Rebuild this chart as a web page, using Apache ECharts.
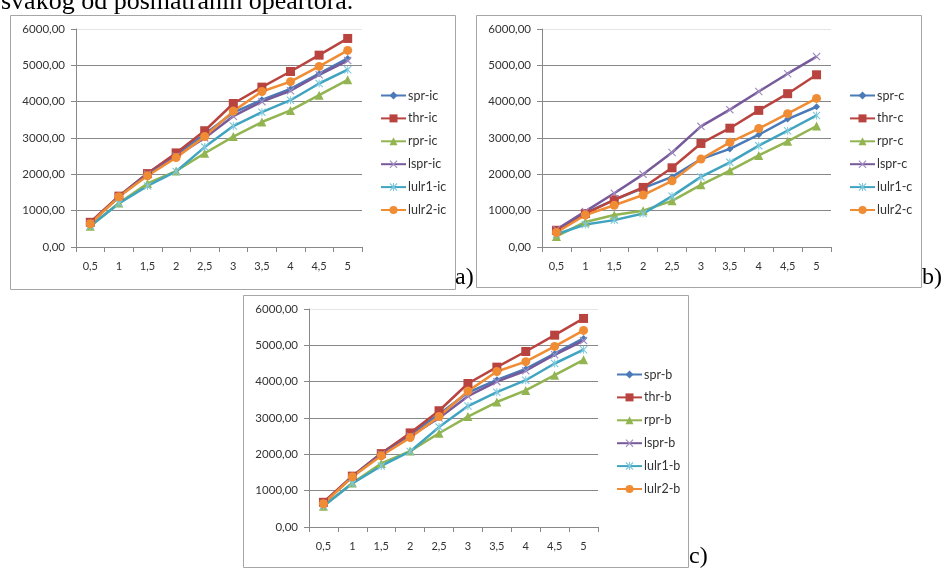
<!DOCTYPE html>
<html><head><meta charset="utf-8">
<script src="https://cdn.jsdelivr.net/npm/echarts@6/dist/echarts.min.js"></script>
<style>html,body{margin:0;padding:0;background:#fff}#c{width:943px;height:570px}</style>
</head><body><div id="c"></div>
<script>
const categories = ['0,5','1','1,5','2','2,5','3','3,5','4','4,5','5'];
const yTicks = [0,1000,2000,3000,4000,5000,6000];
const seriesBase = ['spr','thr','rpr','lspr','lulr1','lulr2'];

// chart a) (-ic) and chart c) (-b) show the same values
const spr_ic   = [660,1400,2030,2560,3100,3700,4050,4350,4770,5190];
const thr_ic   = [680,1400,2020,2590,3200,3950,4400,4830,5280,5740];
const rpr_ic   = [570,1210,1750,2090,2580,3040,3440,3760,4180,4600];
const lspr_ic  = [650,1380,2000,2500,3000,3600,4000,4300,4740,5130];
const lulr1_ic = [580,1200,1680,2080,2750,3330,3710,4040,4500,4880];
const lulr2_ic = [640,1380,1960,2460,3040,3740,4280,4550,4970,5410];

const spr_c   = [440,940,1300,1620,1930,2420,2700,3090,3520,3860];
const thr_c   = [460,920,1300,1640,2180,2850,3270,3760,4220,4740];
const rpr_c   = [290,690,880,1000,1270,1710,2100,2520,2910,3330];
const lspr_c  = [480,980,1480,2000,2600,3320,3780,4280,4770,5240];
const lulr1_c = [350,620,740,920,1400,1930,2330,2790,3200,3620];
const lulr2_c = [400,880,1150,1430,1820,2420,2880,3260,3670,4090];

const spr_b   = spr_ic.slice();
const thr_b   = thr_ic.slice();
const rpr_b   = rpr_ic.slice();
const lspr_b  = lspr_ic.slice();
const lulr1_b = lulr1_ic.slice();
const lulr2_b = lulr2_ic.slice();

const colors = ['#4a7ab8','#b9443f','#92b451','#775a9b','#40a4c0','#ef8c34'];
const markColors = ['#4a7ab8','#b9443f','#92b451','#a08cc0','#7cc8dc','#ef8c34'];
const X_PATH = 'path://M0,1 L1,0 L5,4 L9,0 L10,1 L6,5 L10,9 L9,10 L5,6 L1,10 L0,9 L4,5 Z';
const AST_PATH = 'path://M0,1 L1,0 L5,4 L9,0 L10,1 L6,5 L10,9 L9,10 L5,6 L1,10 L0,9 L4,5 Z M4.4,0 L5.6,0 L5.6,10 L4.4,10 Z';
const symbols = ['diamond','rect','triangle',X_PATH,AST_PATH,'circle'];
const symSizes = [7,9,9,8,8,9];

const font = 'Lato, "Open Sans", sans-serif';
const grids = [
  {left:76, top:29, width:286, height:218},
  {left:542, top:29, width:289, height:218},
  {left:309, top:309, width:289, height:218}
];
const datasets = [
  {suffix:'-ic', data:[spr_ic,thr_ic,rpr_ic,lspr_ic,lulr1_ic,lulr2_ic], legend:{left:380, top:89}},
  {suffix:'-c',  data:[spr_c,thr_c,rpr_c,lspr_c,lulr1_c,lulr2_c], legend:{left:849, top:89}},
  {suffix:'-b',  data:[spr_b,thr_b,rpr_b,lspr_b,lulr1_b,lulr2_b], legend:{left:616, top:368}}
];

const xAxes = [], yAxes = [], series = [], legends = [];
datasets.forEach((d, gi) => {
  xAxes.push({
    type:'category', gridIndex:gi, data:categories, boundaryGap:true,
    axisLine:{lineStyle:{color:'#888', width:1}},
    axisTick:{show:true, alignWithLabel:false, length:5, lineStyle:{color:'#888'}},
    axisLabel:{color:'#333', fontFamily:font, fontSize:11, margin:14}
  });
  yAxes.push({
    type:'value', gridIndex:gi, min:0, max:6000, interval:1000,
    axisLine:{show:true, lineStyle:{color:'#888'}},
    axisTick:{show:true, length:5, lineStyle:{color:'#888'}},
    axisLabel:{color:'#333', fontFamily:font, fontSize:11.5, margin:11,
      formatter: v => v.toFixed(2).replace('.', ',')},
    splitLine:{show:true, lineStyle:{color:['#888','#888','#888','#888','#888','#888','#e4e4e4'], width:1}}
  });
  const names = [];
  seriesBase.forEach((b, si) => {
    const name = b + d.suffix;
    names.push(name);
    series.push({
      type:'line', name, xAxisIndex:gi, yAxisIndex:gi, data:d.data[si],
      symbol:symbols[si], symbolSize:symSizes[si], showAllSymbol:true,
      lineStyle:{color:colors[si], width:2.5},
      itemStyle:{color:markColors[si]},
      animation:false
    });
  });
  legends.push({
    data:names, orient:'vertical', left:d.legend.left, top:d.legend.top,
    padding:0, itemWidth:25, itemHeight:10, itemGap:9.9,
    textStyle:{fontFamily:font, fontSize:12.5, color:'#333', padding:[0,0,0,-3]}
  });
});

const frames = [
  {x:10, y:15, w:445, h:274},
  {x:476, y:15, w:445, h:272},
  {x:243, y:295, w:445, h:272}
];
const graphic = frames.map(f => ({
  type:'rect', shape:{x:f.x+0.5, y:f.y+0.5, width:f.w, height:f.h},
  style:{fill:'none', stroke:'#a6a6a6', lineWidth:1}, z:-1
}));
const serif = '"Liberation Serif", "Times New Roman", serif';
graphic.push(
  {type:'text', left:1, top:-11, style:{text:'svakog od posmatranih opeartora.', font:'26px ' + serif, fill:'#000'}},
  {type:'text', left:455, top:266, style:{text:'a)', font:'24px ' + serif, fill:'#000'}},
  {type:'text', left:922, top:266, style:{text:'b)', font:'24px ' + serif, fill:'#000'}},
  {type:'text', left:689, top:545, style:{text:'c)', font:'24px ' + serif, fill:'#000'}}
);

const chart = echarts.init(document.getElementById('c'));
chart.setOption({
  backgroundColor:'#fff', animation:false,
  grid:grids, xAxis:xAxes, yAxis:yAxes, series, legend:legends, graphic
});
</script></body></html>
